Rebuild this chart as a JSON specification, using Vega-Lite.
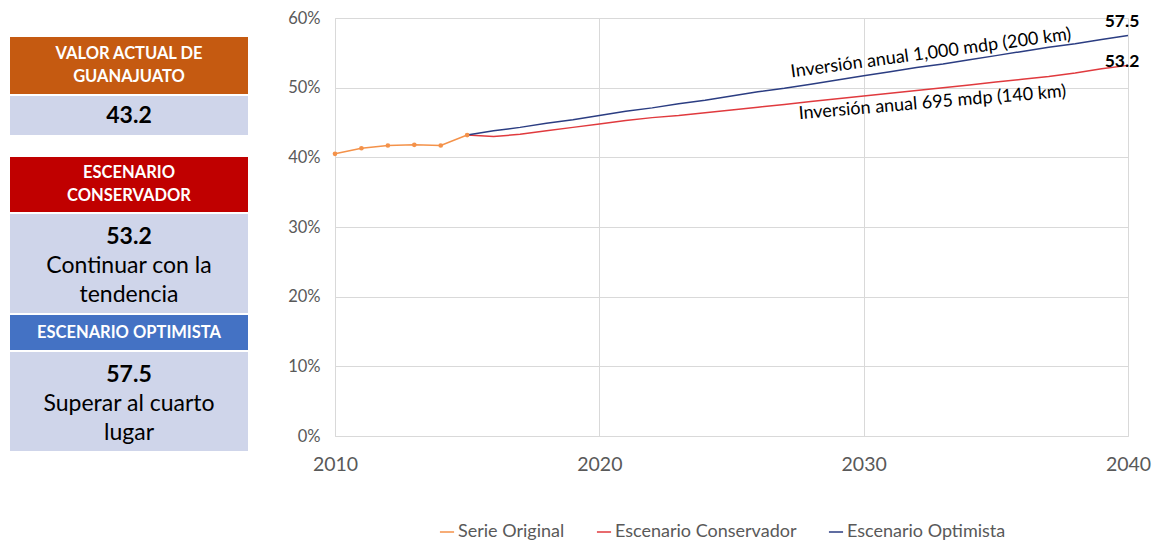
{
  "$schema": "https://vega.github.io/schema/vega-lite/v6.json",
  "padding": {"left": 10, "top": 10, "right": 5, "bottom": 0},
  "background": "white",
  "config": {
    "font": "Lato",
    "view": {"stroke": null},
    "concat": {"spacing": 2}
  },
  "spacing": 39,
  "resolve": {"legend": {"color": "independent"}, "scale": {"color": "independent"}},
  "hconcat": [
    {
      "spacing": 2,
      "vconcat": [
        {"width": 238, "height": 17, "data": {"values": [{}]}, "mark": {"type": "text"}, "encoding": {}},
        {"width": 238, "height": 57, "view": {"fill": "#C55A11", "stroke": null},
         "data": {"values": [{"t": "VALOR ACTUAL DE\nGUANAJUATO"}]},
         "mark": {"type": "text", "lineBreak": "\n", "color": "white", "fontWeight": "bold", "fontSize": 16.5, "lineHeight": 23, "align": "center", "baseline": "middle", "dy": -11.5},
         "encoding": {"text": {"field": "t"}}},
        {"width": 238, "height": 39, "view": {"fill": "#CFD5EA", "stroke": null},
         "data": {"values": [{"t": "43.2"}]},
         "mark": {"type": "text", "color": "black", "fontWeight": "bold", "fontSize": 23, "align": "center", "baseline": "middle"},
         "encoding": {"text": {"field": "t"}}},
        {"width": 238, "height": 18, "data": {"values": [{}]}, "mark": {"type": "text"}, "encoding": {}},
        {"width": 238, "height": 55, "view": {"fill": "#C00000", "stroke": null},
         "data": {"values": [{"t": "ESCENARIO\nCONSERVADOR"}]},
         "mark": {"type": "text", "lineBreak": "\n", "color": "white", "fontWeight": "bold", "fontSize": 16.5, "lineHeight": 23, "align": "center", "baseline": "middle", "dy": -11.5},
         "encoding": {"text": {"field": "t"}}},
        {"width": 238, "height": 99, "view": {"fill": "#CFD5EA", "stroke": null},
         "data": {"values": [{"n": "53.2", "t": "Continuar con la\ntendencia"}]},
         "layer": [
           {"mark": {"type": "text", "color": "black", "fontWeight": "bold", "fontSize": 23, "align": "center", "baseline": "middle", "dy": -27},
            "encoding": {"text": {"field": "n"}}},
           {"mark": {"type": "text", "lineBreak": "\n", "color": "black", "fontSize": 23, "lineHeight": 29, "align": "center", "baseline": "middle", "dy": 2.5},
            "encoding": {"text": {"field": "t"}}}
         ]},
        {"width": 238, "height": 35, "view": {"fill": "#4472C4", "stroke": null},
         "data": {"values": [{"t": "ESCENARIO OPTIMISTA"}]},
         "mark": {"type": "text", "color": "white", "fontWeight": "bold", "fontSize": 16.5, "align": "center", "baseline": "middle"},
         "encoding": {"text": {"field": "t"}}},
        {"width": 238, "height": 99, "view": {"fill": "#CFD5EA", "stroke": null},
         "data": {"values": [{"n": "57.5", "t": "Superar al cuarto\nlugar"}]},
         "layer": [
           {"mark": {"type": "text", "color": "black", "fontWeight": "bold", "fontSize": 23, "align": "center", "baseline": "middle", "dy": -27},
            "encoding": {"text": {"field": "n"}}},
           {"mark": {"type": "text", "lineBreak": "\n", "color": "black", "fontSize": 23, "lineHeight": 29, "align": "center", "baseline": "middle", "dy": 2},
            "encoding": {"text": {"field": "t"}}}
         ]}
      ]
    },
    {
      "width": 793,
      "height": 418,
      "data": {"values": [
        {"year": 2010, "value": 40.5, "series": "Serie Original"},
        {"year": 2011, "value": 41.3, "series": "Serie Original"},
        {"year": 2012, "value": 41.7, "series": "Serie Original"},
        {"year": 2013, "value": 41.8, "series": "Serie Original"},
        {"year": 2014, "value": 41.7, "series": "Serie Original"},
        {"year": 2015, "value": 43.2, "series": "Serie Original"},
        {"year": 2015, "value": 43.2, "series": "Escenario Conservador"},
        {"year": 2016, "value": 43.0, "series": "Escenario Conservador"},
        {"year": 2017, "value": 43.3, "series": "Escenario Conservador"},
        {"year": 2018, "value": 43.8, "series": "Escenario Conservador"},
        {"year": 2019, "value": 44.3, "series": "Escenario Conservador"},
        {"year": 2020, "value": 44.8, "series": "Escenario Conservador"},
        {"year": 2021, "value": 45.3, "series": "Escenario Conservador"},
        {"year": 2022, "value": 45.7, "series": "Escenario Conservador"},
        {"year": 2023, "value": 46.0, "series": "Escenario Conservador"},
        {"year": 2024, "value": 46.4, "series": "Escenario Conservador"},
        {"year": 2025, "value": 46.8, "series": "Escenario Conservador"},
        {"year": 2026, "value": 47.2, "series": "Escenario Conservador"},
        {"year": 2027, "value": 47.6, "series": "Escenario Conservador"},
        {"year": 2028, "value": 48.0, "series": "Escenario Conservador"},
        {"year": 2029, "value": 48.4, "series": "Escenario Conservador"},
        {"year": 2030, "value": 48.8, "series": "Escenario Conservador"},
        {"year": 2031, "value": 49.2, "series": "Escenario Conservador"},
        {"year": 2032, "value": 49.6, "series": "Escenario Conservador"},
        {"year": 2033, "value": 50.0, "series": "Escenario Conservador"},
        {"year": 2034, "value": 50.4, "series": "Escenario Conservador"},
        {"year": 2035, "value": 50.8, "series": "Escenario Conservador"},
        {"year": 2036, "value": 51.2, "series": "Escenario Conservador"},
        {"year": 2037, "value": 51.6, "series": "Escenario Conservador"},
        {"year": 2038, "value": 52.1, "series": "Escenario Conservador"},
        {"year": 2039, "value": 52.7, "series": "Escenario Conservador"},
        {"year": 2040, "value": 53.2, "series": "Escenario Conservador"},
        {"year": 2015, "value": 43.2, "series": "Escenario Optimista"},
        {"year": 2016, "value": 43.8, "series": "Escenario Optimista"},
        {"year": 2017, "value": 44.3, "series": "Escenario Optimista"},
        {"year": 2018, "value": 44.9, "series": "Escenario Optimista"},
        {"year": 2019, "value": 45.4, "series": "Escenario Optimista"},
        {"year": 2020, "value": 46.0, "series": "Escenario Optimista"},
        {"year": 2021, "value": 46.6, "series": "Escenario Optimista"},
        {"year": 2022, "value": 47.1, "series": "Escenario Optimista"},
        {"year": 2023, "value": 47.7, "series": "Escenario Optimista"},
        {"year": 2024, "value": 48.2, "series": "Escenario Optimista"},
        {"year": 2025, "value": 48.8, "series": "Escenario Optimista"},
        {"year": 2026, "value": 49.4, "series": "Escenario Optimista"},
        {"year": 2027, "value": 49.9, "series": "Escenario Optimista"},
        {"year": 2028, "value": 50.5, "series": "Escenario Optimista"},
        {"year": 2029, "value": 51.1, "series": "Escenario Optimista"},
        {"year": 2030, "value": 51.7, "series": "Escenario Optimista"},
        {"year": 2031, "value": 52.3, "series": "Escenario Optimista"},
        {"year": 2032, "value": 52.9, "series": "Escenario Optimista"},
        {"year": 2033, "value": 53.4, "series": "Escenario Optimista"},
        {"year": 2034, "value": 54.0, "series": "Escenario Optimista"},
        {"year": 2035, "value": 54.6, "series": "Escenario Optimista"},
        {"year": 2036, "value": 55.2, "series": "Escenario Optimista"},
        {"year": 2037, "value": 55.8, "series": "Escenario Optimista"},
        {"year": 2038, "value": 56.3, "series": "Escenario Optimista"},
        {"year": 2039, "value": 56.9, "series": "Escenario Optimista"},
        {"year": 2040, "value": 57.5, "series": "Escenario Optimista"}
      ]},
      "encoding": {
        "x": {"field": "year", "type": "quantitative",
              "scale": {"domain": [2010, 2040], "nice": false, "zero": false},
              "axis": {"title": null, "values": [2010, 2020, 2030, 2040], "format": "d", "ticks": false,
                       "labelFontSize": 19.5, "labelColor": "#595959", "labelPadding": 19,
                       "domainColor": "#D9D9D9", "gridColor": "#D9D9D9", "labelFlush": false}},
        "y": {"field": "value", "type": "quantitative",
              "scale": {"domain": [0, 60], "nice": false},
              "axis": {"title": null, "values": [0, 10, 20, 30, 40, 50, 60], "labelExpr": "datum.value + '%'", "ticks": false,
                       "labelFontSize": 16.5, "labelColor": "#595959", "labelPadding": 15,
                       "domainColor": "#D9D9D9", "gridColor": "#D9D9D9"}}
      },
      "layer": [
        {
          "mark": {"type": "line", "strokeWidth": 1.5},
          "encoding": {
            "color": {"field": "series", "type": "nominal",
                      "scale": {"domain": ["Serie Original", "Escenario Conservador", "Escenario Optimista"],
                                "range": ["#F4924A", "#E03A3E", "#2B3D82"]},
                      "legend": {"title": null, "orient": "none", "legendX": 103, "legendY": 505, "direction": "horizontal",
                                 "symbolType": "stroke", "symbolSize": 200, "symbolStrokeWidth": 1.5,
                                 "labelFontSize": 18, "labelLimit": 400, "labelColor": "#595959", "columnPadding": 28, "labelOffset": 2}}
          }
        },
        {
          "transform": [{"filter": "datum.series === 'Serie Original'"}],
          "mark": {"type": "point", "filled": true, "size": 22, "color": "#F4924A", "opacity": 1}
        },
        {
          "data": {"values": [{"year": 2032.55, "value": 54.9, "label": "Inversión anual 1,000 mdp (200 km)"}]},
          "mark": {"type": "text", "angle": -7.7, "fontSize": 18, "color": "black", "align": "center", "baseline": "middle"},
          "encoding": {"text": {"field": "label"}}
        },
        {
          "data": {"values": [{"year": 2032.6, "value": 47.8, "label": "Inversión anual 695 mdp (140 km)"}]},
          "mark": {"type": "text", "angle": -4.8, "fontSize": 18, "color": "black", "align": "center", "baseline": "middle"},
          "encoding": {"text": {"field": "label"}}
        },
        {
          "data": {"values": [{"year": 2040, "value": 57.5, "label": "57.5"}]},
          "mark": {"type": "text", "fontSize": 17.5, "fontWeight": "bold", "color": "black", "align": "center", "baseline": "middle", "dx": -6, "dy": -13},
          "encoding": {"text": {"field": "label"}}
        },
        {
          "data": {"values": [{"year": 2040, "value": 53.2, "label": "53.2"}]},
          "mark": {"type": "text", "fontSize": 17.5, "fontWeight": "bold", "color": "black", "align": "center", "baseline": "middle", "dx": -6, "dy": -3},
          "encoding": {"text": {"field": "label"}}
        }
      ]
    }
  ]
}
